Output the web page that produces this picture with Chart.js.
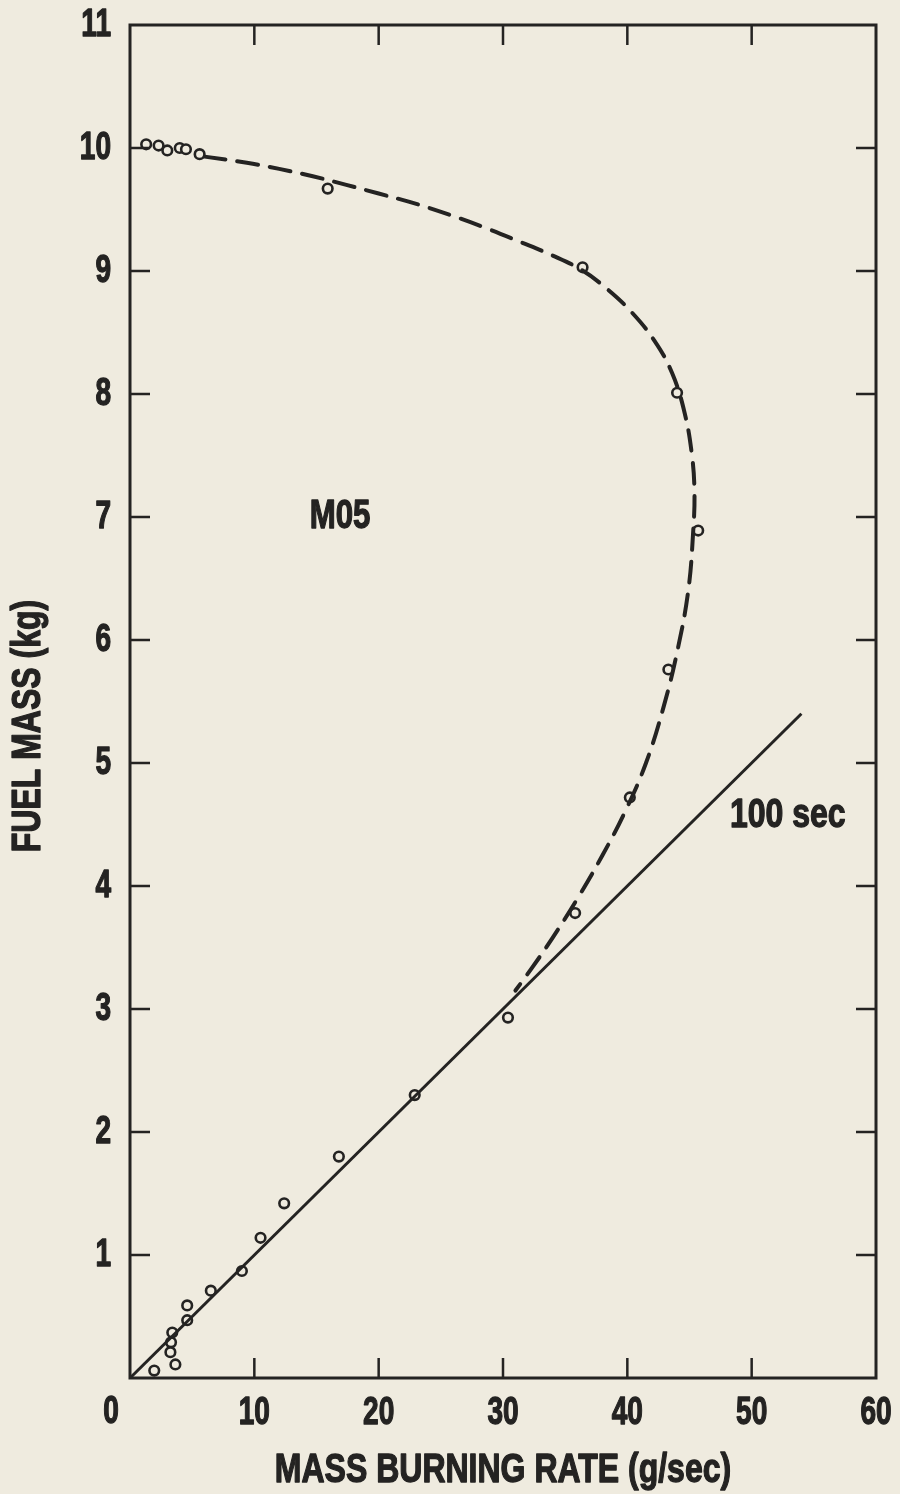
<!DOCTYPE html>
<html>
<head>
<meta charset="utf-8">
<script src="https://cdn.jsdelivr.net/npm/chart.js@4.4.1/dist/chart.umd.min.js"></script>
<style>
  html, body { margin: 0; padding: 0; background: #efebdf; }
  #wrap { width: 900px; height: 1494px; position: relative; }
</style>
</head>
<body>
<div id="wrap"><canvas id="c" width="900" height="1494"></canvas></div>
<script>
// ---- data ----
const xTicks = [0, 10, 20, 30, 40, 50, 60];
const yTicks = [0, 1, 2, 3, 4, 5, 6, 7, 8, 9, 10, 11];

// measured points: mass burning rate (g/sec) vs fuel mass (kg)
const pointX = [1.3, 2.3, 3.0, 4.0, 4.5, 5.6, 15.9, 36.4, 44.0, 45.7, 43.3, 40.2, 35.8, 30.4, 22.9, 16.8, 12.4, 10.5, 9.0, 6.5, 4.6, 4.6, 3.4, 3.3, 3.25, 3.65, 1.95];
const pointY = [10.03, 10.02, 9.98, 10.0, 9.99, 9.95, 9.67, 9.03, 8.01, 6.89, 5.76, 4.72, 3.78, 2.93, 2.30, 1.80, 1.42, 1.14, 0.87, 0.71, 0.59, 0.47, 0.37, 0.29, 0.21, 0.11, 0.06];

// fitted dashed curve
const curveX = [6.0, 9.4, 12.0, 14.7, 17.4, 20.0, 23.2, 25.9, 28.6, 31.3, 33.9, 36.3, 38.3, 40.3, 42.2, 43.6, 44.6, 45.2, 45.4, 45.3, 44.9, 44.0, 42.9, 41.5, 39.8, 38.0, 36.0, 34.0, 32.3, 31.0];
const curveY = [9.93, 9.88, 9.83, 9.77, 9.70, 9.63, 9.54, 9.45, 9.35, 9.24, 9.13, 9.01, 8.86, 8.67, 8.43, 8.17, 7.85, 7.50, 7.20, 6.89, 6.40, 5.90, 5.45, 5.00, 4.60, 4.25, 3.90, 3.58, 3.33, 3.15];

// 100 sec line (fuel mass = rate x 100 s)
const lineX = [0, 54];
const lineY = [0, 5.4];

const labelM05 = { text: 'M05', x: 16.9, y: 7.0 };
const label100 = { text: '100 sec', x: 52.9, y: 4.57 };
const xTitle = 'MASS BURNING RATE (g/sec)';
const yTitle = 'FUEL MASS (kg)';

// ---- styling ----
const BG = '#efebdf';
const INK = '#242322';
const FONT = "'Liberation Sans', Arial, sans-serif";

const toXY = (xs, ys) => xs.map((x, i) => ({ x: x, y: ys[i] }));

// condensed heavy text: horizontal squeeze plus a thin outline
function condText(ctx, text, x, y, size, squeeze, align) {
  ctx.save();
  ctx.font = 'bold ' + size + 'px ' + FONT;
  ctx.textAlign = align || 'center';
  ctx.textBaseline = 'middle';
  ctx.fillStyle = INK;
  ctx.strokeStyle = INK;
  ctx.lineWidth = 1.3;
  ctx.lineJoin = 'round';
  ctx.translate(x, y);
  ctx.scale(squeeze, 1);
  ctx.fillText(text, 0, 0);
  ctx.strokeText(text, 0, 0);
  ctx.restore();
}

const framePlugin = {
  id: 'frame',
  beforeDraw(chart) {
    const ctx = chart.ctx;
    ctx.save();
    ctx.fillStyle = BG;
    ctx.fillRect(0, 0, chart.width, chart.height);
    ctx.restore();
  },
  afterDatasetsDraw(chart) {
    const ctx = chart.ctx;
    const a = chart.chartArea;
    const xs = chart.scales.x, ys = chart.scales.y;
    ctx.save();
    ctx.strokeStyle = INK;
    ctx.lineWidth = 3;
    ctx.strokeRect(a.left, a.top, a.right - a.left, a.bottom - a.top);
    ctx.lineWidth = 2.5;
    const tl = 20;
    ctx.beginPath();
    xTicks.forEach(v => {
      if (v === xs.min || v === xs.max) return;
      const px = xs.getPixelForValue(v);
      ctx.moveTo(px, a.bottom); ctx.lineTo(px, a.bottom - tl);
      ctx.moveTo(px, a.top); ctx.lineTo(px, a.top + tl);
    });
    yTicks.forEach(v => {
      if (v === ys.min || v === ys.max) return;
      const py = ys.getPixelForValue(v);
      ctx.moveTo(a.left, py); ctx.lineTo(a.left + tl, py);
      ctx.moveTo(a.right, py); ctx.lineTo(a.right - tl, py);
    });
    ctx.stroke();

    // tick labels
    xTicks.forEach(v => {
      if (v === 0) return;
      condText(ctx, String(v), xs.getPixelForValue(v), a.bottom + 35, 39, 0.72, 'center');
    });
    yTicks.forEach(v => {
      if (v === 0) return;
      condText(ctx, String(v), a.left - 19, ys.getPixelForValue(v), 39, 0.72, 'right');
    });
    condText(ctx, '0', a.left - 19, a.bottom + 34, 39, 0.72, 'center');

    // in-plot labels
    condText(ctx, labelM05.text, xs.getPixelForValue(labelM05.x), ys.getPixelForValue(labelM05.y), 40, 0.78, 'center');
    condText(ctx, label100.text, xs.getPixelForValue(label100.x), ys.getPixelForValue(label100.y), 40, 0.8, 'center');

    // axis titles
    condText(ctx, xTitle, (a.left + a.right) / 2, 1471, 40, 0.8, 'center');
    ctx.save();
    ctx.translate(29, 726);
    ctx.rotate(-Math.PI / 2);
    condText(ctx, yTitle, 0, 0, 40, 0.8, 'center');
    ctx.restore();
    ctx.restore();
  }
};

new Chart(document.getElementById('c'), {
  type: 'scatter',
  data: {
    datasets: [
      {
        data: toXY(lineX, lineY),
        showLine: true,
        borderColor: INK,
        borderWidth: 3,
        pointRadius: 0,
        tension: 0
      },
      {
        data: toXY(curveX, curveY),
        showLine: true,
        borderColor: INK,
        borderWidth: 4,
        borderDash: [21, 12],
        borderCapStyle: 'round',
        pointRadius: 0,
        tension: 0.4
      },
      {
        data: toXY(pointX, pointY),
        showLine: false,
        pointRadius: 4.8,
        pointBorderWidth: 2.6,
        pointBorderColor: INK,
        pointBackgroundColor: BG
      }
    ]
  },
  options: {
    responsive: false,
    animation: false,
    devicePixelRatio: 1,
    layout: { padding: { top: 25, right: 24, left: 0, bottom: 0 } },
    plugins: { legend: { display: false }, tooltip: { enabled: false } },
    scales: {
      x: {
        type: 'linear',
        min: 0, max: 60,
        afterBuildTicks: s => { s.ticks = xTicks.map(v => ({ value: v })); },
        afterFit: s => { s.height = 116; },
        grid: { display: false, drawTicks: false },
        border: { display: false },
        ticks: { display: false }
      },
      y: {
        type: 'linear',
        min: 0, max: 11,
        afterBuildTicks: s => { s.ticks = yTicks.map(v => ({ value: v })); },
        afterFit: s => { s.width = 130; },
        grid: { display: false, drawTicks: false },
        border: { display: false },
        ticks: { display: false }
      }
    }
  },
  plugins: [framePlugin]
});
</script>
</body>
</html>
